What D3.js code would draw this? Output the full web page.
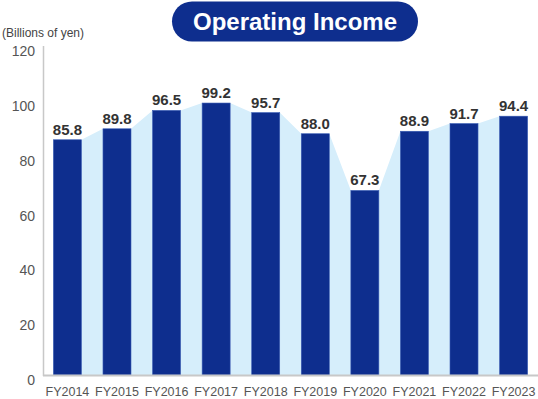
<!DOCTYPE html>
<html>
<head>
<meta charset="utf-8">
<script src="https://cdn.jsdelivr.net/npm/d3@7"></script>
<style>
  body { margin: 0; background: #fff; }
  svg { display: block; font-family: "Liberation Sans", Arial, sans-serif; }
</style>
</head>
<body>
<div id="chart"></div>
<script>
// data
var years = ["FY2014", "FY2015", "FY2016", "FY2017", "FY2018", "FY2019", "FY2020", "FY2021", "FY2022", "FY2023"];
var income = [85.8, 89.8, 96.5, 99.2, 95.7, 88.0, 67.3, 88.9, 91.7, 94.4];
var yTicks = [0, 20, 40, 60, 80, 100, 120];

var width = 538, height = 399;
var dark = "#0e2e8e", light = "#d6eefb";

var svg = d3.select("#chart").append("svg")
    .attr("width", width)
    .attr("height", height);

var x = d3.scaleBand()
    .domain(years)
    .range([43, 538])
    .paddingInner(0.435)
    .paddingOuter(0.21);

var y = d3.scaleLinear()
    .domain([0, 120])
    .range([375, 46]);

// light area joining the bar tops
var pts = [];
years.forEach(function(d, i) {
    pts.push([x(d), y(income[i])]);
    pts.push([x(d) + x.bandwidth(), y(income[i])]);
});
var area = d3.area()
    .x(function(p) { return p[0]; })
    .y0(y(0))
    .y1(function(p) { return p[1]; });

svg.append("path")
    .datum(pts)
    .attr("d", area)
    .attr("fill", light);

// bars
svg.selectAll(".bar")
    .data(years)
    .enter().append("rect")
    .attr("class", "bar")
    .attr("x", function(d) { return x(d); })
    .attr("y", function(d, i) { return y(income[i]); })
    .attr("width", x.bandwidth())
    .attr("height", function(d, i) { return y(0) - y(income[i]); })
    .attr("fill", dark)
    .attr("stroke", "#3b5cb3")
    .attr("stroke-width", 0.6);

// value labels
svg.selectAll(".val")
    .data(years)
    .enter().append("text")
    .attr("class", "val")
    .attr("x", function(d) { return x(d) + x.bandwidth() / 2; })
    .attr("y", function(d, i) { return y(income[i]) - 5; })
    .attr("text-anchor", "middle")
    .attr("font-size", "15px")
    .attr("font-weight", "bold")
    .attr("fill", "#333")
    .text(function(d, i) { return income[i].toFixed(1); });

// y axis line + baseline
svg.append("line")
    .attr("x1", 43.5).attr("x2", 43.5)
    .attr("y1", 46).attr("y2", 376)
    .attr("stroke", "#c8c8c8")
    .attr("stroke-width", 1.5);
svg.append("line")
    .attr("x1", 43).attr("x2", 538)
    .attr("y1", 375.5).attr("y2", 375.5)
    .attr("stroke", "#c8c8c8")
    .attr("stroke-width", 2);

// y tick labels
svg.selectAll(".ytick")
    .data(yTicks)
    .enter().append("text")
    .attr("class", "ytick")
    .attr("x", 35)
    .attr("y", function(d) { return y(d) + 10; })
    .attr("text-anchor", "end")
    .attr("font-size", "14px")
    .attr("fill", "#555")
    .text(function(d) { return d; });

// x labels
svg.selectAll(".xtick")
    .data(years)
    .enter().append("text")
    .attr("class", "xtick")
    .attr("x", function(d) { return x(d) + x.bandwidth() / 2; })
    .attr("y", 396)
    .attr("text-anchor", "middle")
    .attr("font-size", "12.5px")
    .attr("fill", "#555")
    .text(function(d) { return d; });

// unit label
svg.append("text")
    .attr("x", 2)
    .attr("y", 37)
    .attr("font-size", "12px")
    .attr("fill", "#444")
    .text("(Billions of yen)");

// title pill
svg.append("rect")
    .attr("x", 172).attr("y", 1.5)
    .attr("width", 246).attr("height", 40)
    .attr("rx", 20).attr("ry", 20)
    .attr("fill", dark);
svg.append("text")
    .attr("x", 295)
    .attr("y", 30)
    .attr("text-anchor", "middle")
    .attr("font-size", "24px")
    .attr("font-weight", "bold")
    .attr("fill", "#fff")
    .text("Operating Income");
</script>
</body>
</html>
